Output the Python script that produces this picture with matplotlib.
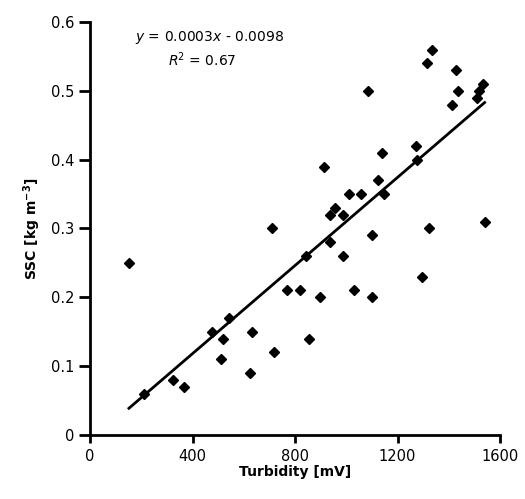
import matplotlib
matplotlib.use("Agg")
import matplotlib.pyplot as plt
import numpy as np

# Data
turbidity = [152, 212, 325, 366, 476, 510, 520, 542, 626, 633, 709, 718,
             770, 821, 843, 856, 897, 913, 935, 937, 955, 989, 989, 1011,
             1029, 1057, 1084, 1099, 1100, 1123, 1138, 1147, 1272, 1277,
             1296, 1316, 1323, 1333, 1414, 1427, 1437, 1510, 1520, 1532, 1540]
ssc = [0.25, 0.06, 0.08, 0.07, 0.15, 0.11, 0.14, 0.17, 0.09, 0.15, 0.30, 0.12,
       0.21, 0.21, 0.26, 0.14, 0.20, 0.39, 0.28, 0.32, 0.33, 0.32, 0.26, 0.35,
       0.21, 0.35, 0.50, 0.20, 0.29, 0.37, 0.41, 0.35, 0.42, 0.40,
       0.23, 0.54, 0.30, 0.56, 0.48, 0.53, 0.50, 0.49, 0.50, 0.51, 0.31]

fit_slope = 0.00032
fit_intercept = -0.0098
eq_text = r"$y$ = 0.0003$x$ - 0.0098"
r2_text = r"$R$$^2$ = 0.67"

x_ticks = [0, 400, 800, 1200, 1600]
y_ticks = [0, 0.1, 0.2, 0.3, 0.4, 0.5, 0.6]
y_tick_labels = ["0", "0.1", "0.2", "0.3", "0.4", "0.5", "0.6"]

plt.rcParams['font.family'] = ['DejaVu Sans']
plt.rcParams['mathtext.fontset'] = 'dejavusans'

fig = plt.figure(figsize=(5.25, 4.99), dpi=100)
ax = fig.add_axes([90/525, 1 - 435/499, 410/525, (435-22)/499])

ax.plot(turbidity, ssc, linestyle='none', marker='D', markersize=5.3,
        color='black', zorder=3)
xl = np.array([min(turbidity), max(turbidity)])
ax.plot(xl, fit_slope * xl + fit_intercept, color='black', lw=2.0, zorder=2)

ax.set_xlim(0, 1600)
ax.set_ylim(0, 0.6)
ax.set_xticks(x_ticks)
ax.set_xticklabels([str(t) for t in x_ticks])
ax.set_yticks(y_ticks)
ax.set_yticklabels(y_tick_labels)

for s in ['top', 'right']:
    ax.spines[s].set_visible(False)
for s in ['left', 'bottom']:
    ax.spines[s].set_linewidth(2.0)
ax.spines['left'].set_bounds(0, 0.6)
ax.tick_params(axis='x', direction='out', length=6, width=2.0, labelsize=10.5, pad=4)
ax.tick_params(axis='y', direction='out', length=8, width=2.0, labelsize=10.5, pad=3)

ax.set_xlabel("Turbidity [mV]", fontsize=10, fontweight='bold', labelpad=1)
ax.set_ylabel(r"SSC [kg m$^{\mathbf{-3}}$]", fontsize=10, fontweight='bold', labelpad=6)

ax.text(176, 0.577, eq_text, fontsize=10, ha='left', va='center')
ax.text(304, 0.545, r2_text, fontsize=10, ha='left', va='center')

fig.savefig("out.png", dpi=100)
